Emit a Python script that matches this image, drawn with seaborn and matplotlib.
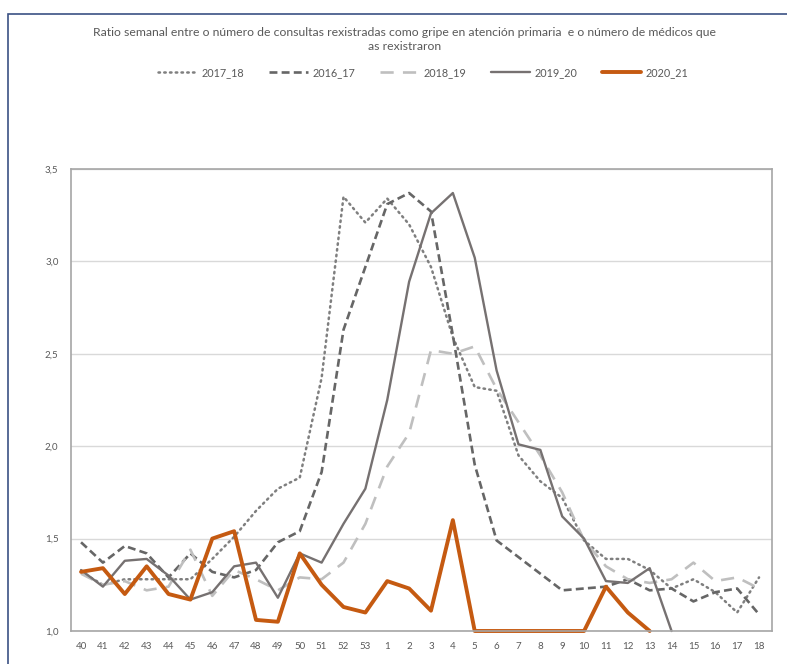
"""Ratio semanal consultas de gripe / médicos notificadores, tempadas 2016-2021."""

import numpy as np
import matplotlib
matplotlib.use("Agg")
import matplotlib.pyplot as plt
import matplotlib.patches as mpatches
from matplotlib.ticker import FuncFormatter
import seaborn as sns

nan = np.nan

# Semanas epidemiolóxicas (40 a 53, logo 1 a 18)
semanas = [str(s) for s in range(40, 54)] + [str(s) for s in range(1, 19)]

t2017_18 = [1.32, 1.25, 1.28, 1.28, 1.28, 1.28, 1.39, 1.51, 1.65, 1.77, 1.83, 2.37, 3.35, 3.21,
            3.34, 3.20, 2.97, 2.59, 2.32, 2.30, 1.95, 1.81, 1.72, 1.49, 1.39, 1.39, 1.33, 1.23,
            1.28, 1.21, 1.10, 1.29]
t2016_17 = [1.48, 1.37, 1.46, 1.42, 1.29, 1.42, 1.32, 1.29, 1.33, 1.48, 1.54, 1.86, 2.63, 2.97,
            3.31, 3.37, 3.27, 2.60, 1.90, 1.49, 1.40, 1.31, 1.22, 1.23, 1.24, 1.28, 1.22, 1.23,
            1.16, 1.21, 1.23, 1.09]
t2018_19 = [1.31, 1.25, 1.27, 1.22, 1.24, 1.44, 1.19, 1.33, 1.28, 1.22, 1.29, 1.28, 1.37, 1.58,
            1.89, 2.07, 2.52, 2.50, 2.54, 2.31, 2.13, 1.95, 1.75, 1.49, 1.35, 1.28, 1.26, 1.28,
            1.37, 1.27, 1.29, 1.23]
t2019_20 = [1.33, 1.24, 1.38, 1.39, 1.30, 1.17, 1.21, 1.35, 1.37, 1.18, 1.42, 1.37, 1.58, 1.77,
            2.25, 2.89, 3.26, 3.37, 3.02, 2.41, 2.01, 1.98, 1.62, 1.50, 1.27, 1.26, 1.34, 1.00,
            nan, nan, nan, nan]
t2020_21 = [1.32, 1.34, 1.20, 1.35, 1.20, 1.17, 1.50, 1.54, 1.06, 1.05, 1.42, 1.25, 1.13, 1.10,
            1.27, 1.23, 1.11, 1.60, 1.00, 1.00, 1.00, 1.00, 1.00, 1.00, 1.24, 1.10, 1.00,
            nan, nan, nan, nan, nan]

series = {
    "2017_18": t2017_18,
    "2016_17": t2016_17,
    "2018_19": t2018_19,
    "2019_20": t2019_20,
    "2020_21": t2020_21,
}

estilos = {
    "2017_18": dict(color="#7F7F7F", lw=1.8, ls=(0, (0.6, 1.7)), dash_capstyle="round"),
    "2016_17": dict(color="#666666", lw=1.9, ls=(0, (3, 1.6))),
    "2018_19": dict(color="#BFBFBF", lw=1.9, ls=(0, (5, 3.5))),
    "2019_20": dict(color="#767171", lw=1.7, ls="-"),
    "2020_21": dict(color="#C55A11", lw=2.8, ls="-"),
}

sns.set_theme(style="white")
plt.rcParams["font.family"] = ["Lato", "DejaVu Sans"]

fig = plt.figure(figsize=(7.87, 6.64), dpi=100)
ax = fig.add_axes([0.0902, 0.0497, 0.8904, 0.6958])

pos = np.arange(len(semanas))
for nome, valores in series.items():
    st = estilos[nome]
    extra = {"dash_capstyle": st["dash_capstyle"]} if "dash_capstyle" in st else {}
    sns.lineplot(x=pos, y=valores, ax=ax, label=nome, color=st["color"],
                 linewidth=st["lw"], linestyle=st["ls"], errorbar=None, clip_on=False,
                 **extra)

ax.set_xlim(-0.46, len(semanas) - 1 + 0.58)
ax.set_ylim(1.0, 3.5)
ax.set_yticks([1.0, 1.5, 2.0, 2.5, 3.0, 3.5])
ax.yaxis.set_major_formatter(FuncFormatter(lambda v, p: f"{v:.1f}".replace(".", ",")))
ax.set_xticks(pos)
ax.set_xticklabels(semanas)
ax.tick_params(axis="both", colors="#595959", labelsize=7, length=0)
ax.tick_params(axis="x", pad=8)
ax.tick_params(axis="y", pad=9)
ax.grid(axis="y", color="#D9D9D9", lw=1.0)
ax.set_axisbelow(True)
for sp in ax.spines.values():
    sp.set_color("#A6A6A6")
    sp.set_linewidth(1.2)
ax.set_xlabel("")
ax.set_ylabel("")

handles, labels = ax.get_legend_handles_labels()
ax.get_legend().remove()
fig.legend(handles, labels, loc="center", bbox_to_anchor=(0.538, 0.891), ncol=5,
           frameon=False, fontsize=7.8, handlelength=3.6, columnspacing=2.3,
           handletextpad=0.4, labelcolor="#595959")

fig.text(0.514, 0.9405,
         "Ratio semanal entre o número de consultas rexistradas como gripe en atención primaria  "
         "e o número de médicos que\nas rexistraron",
         ha="center", va="center", fontsize=8.8, color="#595959", linespacing=1.25)

# marco exterior do gráfico
marco = mpatches.Rectangle((8 / 787, -0.05), 1.1, 1 - 14 / 664 + 0.05,
                           transform=fig.transFigure, fill=False,
                           edgecolor="#3B5284", lw=1.2)
fig.add_artist(marco)

fig.savefig("out.png", dpi=100)
